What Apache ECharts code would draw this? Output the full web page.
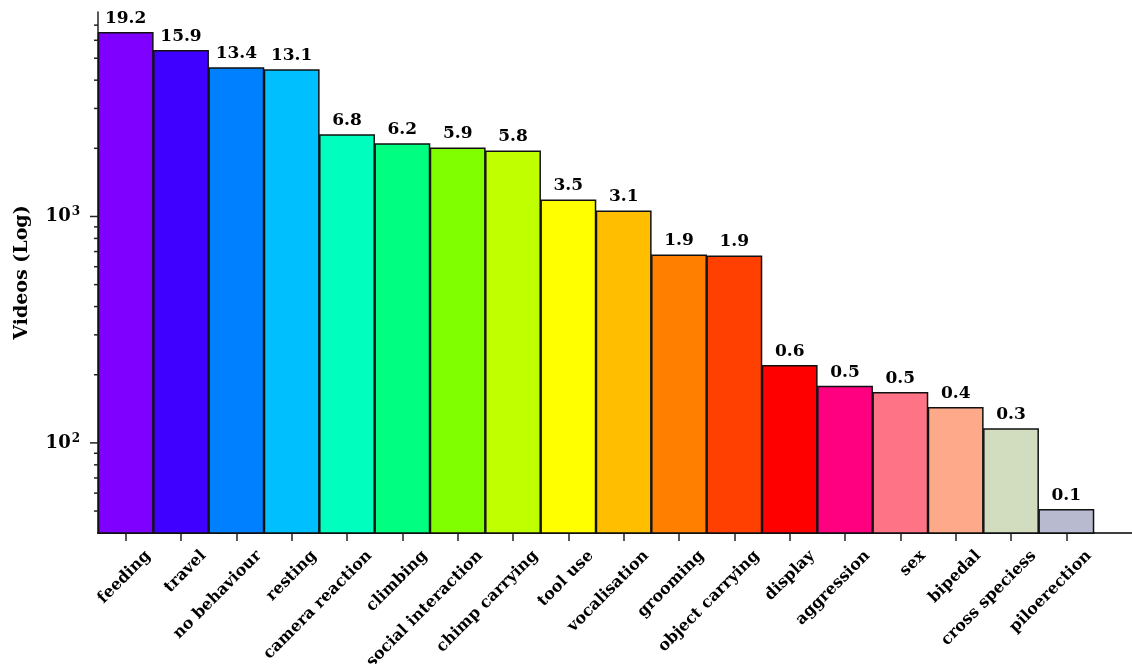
<!DOCTYPE html>
<html>
<head>
<meta charset="utf-8">
<script src="https://cdn.jsdelivr.net/npm/echarts@6/dist/echarts.min.js"></script>
<style>html,body{margin:0;padding:0;background:#fff;}#chart{width:1132px;height:664px;}</style>
</head>
<body>
<div id="chart"></div>
<script>
const categories = ['feeding','travel','no behaviour','resting','camera reaction','climbing','social interaction','chimp carrying','tool use','vocalisation','grooming','object carrying','display','aggression','sex','bipedal','cross speciess','piloerection'];
const videoCounts = [6520,5430,4560,4470,2306,2104,2018,1958,1189,1063,679,672,221,179,168,144,116,51];
const percentLabels = ['19.2','15.9','13.4','13.1','6.8','6.2','5.9','5.8','3.5','3.1','1.9','1.9','0.6','0.5','0.5','0.4','0.3','0.1'];
const barColors = ['#7f00ff','#4000ff','#0080ff','#00bfff','#00ffbf','#00ff80','#80ff00','#bfff00','#ffff00','#ffbf00','#ff8000','#ff4000','#ff0000','#ff0080','#ff7387','#ffa98b','#d2dcbe','#b8bbd0'];
const majorTicks = [100,1000];
const minorTicks = [50,60,70,80,90,200,300,400,500,600,700,800,900,2000,3000,4000,5000,6000,7000];

const FONT = 'DejaVu Serif';
const chart = echarts.init(document.getElementById('chart'));

function tickSeries(values, len) {
  return {
    type: 'custom', xAxisIndex: 0, yAxisIndex: 0, clip: false, silent: true, z: 5,
    data: values.map(v => [0, v]),
    renderItem: function (params, api) {
      const y = api.coord([0, api.value(1)])[1];
      const x0 = params.coordSys.x;
      return { type: 'line', shape: { x1: x0 - len, y1: y, x2: x0, y2: y }, style: { stroke: '#222', lineWidth: 1.5 } };
    }
  };
}

chart.setOption({
  animation: false,
  grid: [
    { left: 98, right: 38, top: 12, bottom: 131, containLabel: false, outerBoundsMode: 'none' },
    { left: 98, right: 0, top: 12, bottom: 131, containLabel: false, outerBoundsMode: 'none' }
  ],
  xAxis: [
    {
      type: 'category', gridIndex: 0, data: categories,
      axisLine: { show: true, lineStyle: { color: '#000', width: 1.5 } },
      axisTick: { show: true, alignWithLabel: true, length: 8, lineStyle: { color: '#222', width: 1.5 } },
      axisLabel: {
        interval: 0, rotate: 45, margin: 43, padding: [0, -32, 0, 0],
        fontFamily: FONT, fontWeight: 'bold', fontSize: 16, color: '#000'
      }
    },
    {
      type: 'value', gridIndex: 1, min: 0, max: 1,
      axisLine: { show: true, lineStyle: { color: '#000', width: 1.5 } },
      axisTick: { show: false }, axisLabel: { show: false }, splitLine: { show: false }
    }
  ],
  yAxis: [
    {
      type: 'log', gridIndex: 0, logBase: 10, min: 40, max: 8000,
      name: 'Videos (Log)', nameLocation: 'middle', nameGap: 66,
      nameTextStyle: { fontFamily: FONT, fontWeight: 'bold', fontSize: 19, color: '#000' },
      axisLine: { show: true, lineStyle: { color: '#222', width: 1.5 } },
      axisTick: { show: false },
      splitLine: { show: false },
      axisLabel: {
        margin: 18, color: '#000',
        formatter: function (v) {
          const e = Math.log10(v);
          if (Math.abs(e - Math.round(e)) < 1e-6 && (Math.round(e) === 2 || Math.round(e) === 3)) {
            return '{b|10}{s|' + Math.round(e) + '}';
          }
          return '';
        },
        rich: {
          b: { fontFamily: FONT, fontWeight: 'bold', fontSize: 18, color: '#000' },
          s: { fontFamily: FONT, fontWeight: 'bold', fontSize: 12, color: '#000', verticalAlign: 'top', padding: [0, 0, 9, 1] }
        }
      }
    },
    { type: 'value', gridIndex: 1, show: false }
  ],
  series: [
    {
      type: 'bar', xAxisIndex: 0, yAxisIndex: 0, barCategoryGap: '0%', barWidth: '101%',
      data: videoCounts.map((v, i) => ({ value: v, itemStyle: { color: barColors[i] } })),
      itemStyle: { borderColor: '#111', borderWidth: 1.5 },
      label: {
        show: true, position: 'top', distance: 5,
        formatter: p => percentLabels[p.dataIndex],
        fontFamily: FONT, fontWeight: 'bold', fontSize: 17, color: '#000'
      }
    },
    tickSeries(majorTicks, 8),
    tickSeries(minorTicks, 4)
  ]
});
</script>
</body>
</html>
